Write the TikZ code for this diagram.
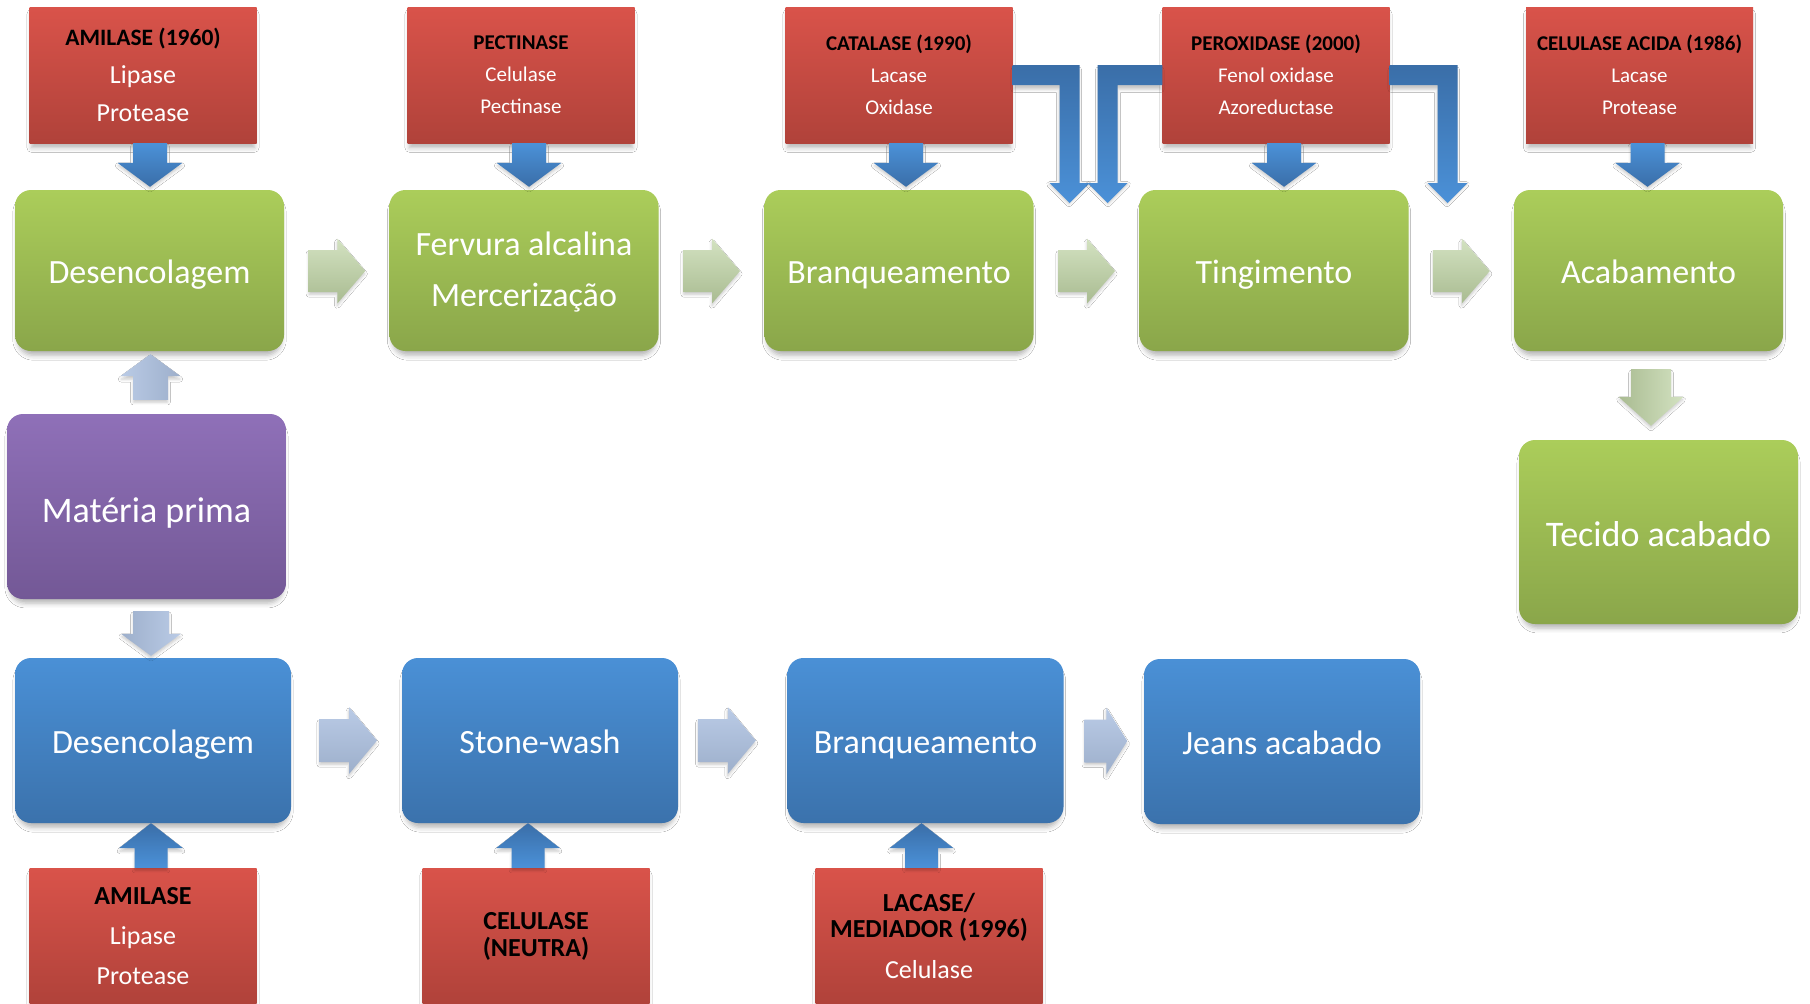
\documentclass[tikz,border=0pt]{standalone}
\usepackage{fontspec}
\setmainfont{Carlito}
\usetikzlibrary{calc,shadows.blur}

\definecolor{gtop}{HTML}{ABCD5A}
\definecolor{gbot}{HTML}{8AA64A}
\definecolor{btop}{HTML}{4A90D6}
\definecolor{bbot}{HTML}{3B72AC}
\definecolor{ptop}{HTML}{8F70B8}
\definecolor{pbot}{HTML}{735896}
\definecolor{rtop}{HTML}{D9534A}
\definecolor{rbot}{HTML}{B0423A}
\definecolor{alight}{HTML}{4B91D8}
\definecolor{adark}{HTML}{3A6EA8}
\definecolor{lbl}{HTML}{BACBE6}
\definecolor{lbd}{HTML}{9DAFCB}
\definecolor{lgl}{HTML}{D3E2C1}
\definecolor{lgd}{HTML}{A9BB91}

\tikzset{
  boxshadow/.style={blur shadow={shadow xshift=0pt,shadow yshift=-6pt,shadow blur radius=5pt,shadow scale=0.98,shadow opacity=30}},
  arrshadow/.style={blur shadow={shadow xshift=0pt,shadow yshift=-3pt,shadow blur radius=3pt,shadow scale=0.97,shadow opacity=22}},
  bx/.style={rounded corners=16pt, text=white, align=center, inner sep=0pt,
     font=\fontsize{34}{51}\selectfont, boxshadow},
  oneline/.style={text height=33pt, text depth=7pt},
  grn/.style={bx, top color=gtop, bottom color=gbot, minimum width=269pt, minimum height=161pt},
  blu/.style={bx, top color=btop, bottom color=bbot, minimum width=276pt, minimum height=165pt, oneline},
  pur/.style={bx, top color=ptop, bottom color=pbot},
  enz/.style={rectangle, top color=rtop, bottom color=rbot, text=white, align=center,
     inner sep=0pt, minimum width=227pt, minimum height=136pt, boxshadow,
     font=\fontsize{21}{32}\selectfont},
  bluearr/.style={top color=alight, bottom color=adark, arrshadow},
  bluearrup/.style={top color=adark, bottom color=alight, arrshadow},
  elbowarr/.style={top color=adark, bottom color=alight, arrshadow},
  lbright/.style={top color=lbl, bottom color=lbd, arrshadow},
  lbup/.style={left color=lbl, right color=lbd, arrshadow},
  lbdown/.style={left color=lbd, right color=lbl, arrshadow},
  lgright/.style={top color=lgl, bottom color=lgd, arrshadow},
  lgdown/.style={left color=lgd, right color=lgl, arrshadow},
}

% #1 style, #2 tail, #3 tip, #4 half shaft, #5 half head, #6 head length
\newcommand\arrDn[6]{\shade[#1] let \p1=#2, \p2=#3 in
  (\x2-#4,\y1) -- (\x2+#4,\y1) -- (\x2+#4,\y2+#6) -- (\x2+#5,\y2+#6) -- (\x2,\y2)
  -- (\x2-#5,\y2+#6) -- (\x2-#4,\y2+#6) -- cycle;}
\newcommand\arrUp[6]{\shade[#1] let \p1=#2, \p2=#3 in
  (\x2-#4,\y1) -- (\x2-#4,\y2-#6) -- (\x2-#5,\y2-#6) -- (\x2,\y2)
  -- (\x2+#5,\y2-#6) -- (\x2+#4,\y2-#6) -- (\x2+#4,\y1) -- cycle;}
\newcommand\arrRt[6]{\shade[#1] let \p1=#2, \p2=#3 in
  (\x1,\y2+#4) -- (\x2-#6,\y2+#4) -- (\x2-#6,\y2+#5) -- (\x2,\y2)
  -- (\x2-#6,\y2-#5) -- (\x2-#6,\y2-#4) -- (\x1,\y2-#4) -- cycle;}
% elbow: horizontal from #2 then down to tip #3
\newcommand\elbowRD[3]{\shade[#1] let \p1=#2, \p2=#3 in
  (\x1,\y1+10pt) -- (\x2+10pt,\y1+10pt) -- (\x2+10pt,\y2+20pt) -- (\x2+20pt,\y2+20pt)
  -- (\x2,\y2) -- (\x2-20pt,\y2+20pt) -- (\x2-10pt,\y2+20pt) -- (\x2-10pt,\y1-10pt)
  -- (\x1,\y1-10pt) -- cycle;}
\newcommand\elbowLD[3]{\shade[#1] let \p1=#2, \p2=#3 in
  (\x1,\y1+10pt) -- (\x2-10pt,\y1+10pt) -- (\x2-10pt,\y2+20pt) -- (\x2-20pt,\y2+20pt)
  -- (\x2,\y2) -- (\x2+20pt,\y2+20pt) -- (\x2+10pt,\y2+20pt) -- (\x2+10pt,\y1-10pt)
  -- (\x1,\y1-10pt) -- cycle;}

\begin{document}
\begin{tikzpicture}[x=1pt,y=-1pt]
\fill[white] (0,0) rectangle (1810,1004);
\useasboundingbox (0,0) rectangle (1810,1004);

% ---------- top enzyme boxes ----------
\node[enz, font=\fontsize{26}{38}\selectfont] (r1) at (143,75)
  {{\fontsize{23.5}{38}\selectfont\bfseries\color{black}AMILASE (1960)}\\Lipase\\Protease};
\node[enz] (r2) at (521,75) {{\bfseries\color{black}PECTINASE}\\Celulase\\Pectinase};
\node[enz] (r3) at (899,75) {{\bfseries\color{black}CATALASE (1990)}\\Lacase\\Oxidase};
\node[enz] (r4) at (1276,75) {{\bfseries\color{black}PEROXIDASE (2000)}\\Fenol oxidase\\Azoreductase};
\node[enz] (r5) at (1639.5,75) {{\bfseries\color{black}CELULASE ACIDA (1986)}\\Lacase\\Protease};

% ---------- green row ----------
\node[grn, oneline] (g1) at (149.5,270.5) {Desencolagem};
\node[grn] (g2) at (524,270.5) {\raisebox{-2.5pt}{\begin{tabular}{@{}c@{}}Fervura alcalina\\Mercerização\end{tabular}}};
\node[grn, oneline] (g3) at (899,270.5) {Branqueamento};
\node[grn, oneline] (g4) at (1274,270.5) {Tingimento};
\node[grn, oneline] (g5) at (1648.5,270.5) {Acabamento};
\node[grn, minimum width=279pt, minimum height=184pt, font=\fontsize{36}{44}\selectfont,
      text height=34pt, text depth=6pt] (g6) at (1658.5,532) {Tecido acabado};

% ---------- purple ----------
\node[pur, minimum width=279pt, minimum height=185pt, font=\fontsize{36}{44}\selectfont,
      text height=36pt, text depth=4pt] (pm) at (146.5,506.5) {Matéria prima};

% ---------- blue row ----------
\node[blu] (b1) at (153,740.5) {Desencolagem};
\node[blu] (b2) at (540,740.5) {Stone-wash};
\node[blu] (b3) at (925.5,740.5) {Branqueamento};
\node[blu] (b4) at (1282,741.5) {Jeans acabado};

% ---------- bottom enzyme boxes ----------
\node[enz, font=\fontsize{26}{40}\selectfont] (rb1) at (143,936)
  {{\bfseries\color{black}AMILASE}\\Lipase\\Protease};
\node[enz, font=\fontsize{26}{27}\selectfont\bfseries, text=black] (rb2) at (536,936)
  {CELULASE\\(NEUTRA)};
\node[enz, font=\fontsize{26}{26}\selectfont] (rb3) at (929,936)
  {{\bfseries\color{black}LACASE/}\\{\bfseries\color{black}MEDIADOR (1996)}\\[15pt]Celulase};

% ---------- enzyme arrows (top, down) ----------
\arrDn{bluearr}{(r1.south)}{($(g1.north)+(0.5,-3)$)}{17pt}{32.5pt}{24pt}
\arrDn{bluearr}{(r2.south)}{($(g2.north)+(5,-3)$)}{17pt}{32.5pt}{24pt}
\arrDn{bluearr}{(r3.south)}{($(g3.north)+(7,-3)$)}{17pt}{32.5pt}{24pt}
\arrDn{bluearr}{(r4.south)}{($(g4.north)+(10,-3)$)}{17pt}{32.5pt}{24pt}
\arrDn{bluearr}{(r5.south)}{($(g5.north)+(-1,-3)$)}{17pt}{32.5pt}{24pt}

% ---------- elbow arrows ----------
\coordinate (e1) at (1069.5,203);
\coordinate (e2) at (1107.5,203);
\coordinate (e3) at (1447.5,203);
\elbowRD{elbowarr}{(r3.east)}{(e1)}
\elbowLD{elbowarr}{(r4.west)}{(e2)}
\elbowRD{elbowarr}{(r4.east)}{(e3)}

% ---------- green right arrows ----------
\arrRt{lgright}{($(g1.east)!0.5!(g2.west)+(-28.5,0.5)$)}{($(g1.east)!0.5!(g2.west)+(28.5,0.5)$)}{21pt}{32.5pt}{28pt}
\arrRt{lgright}{($(g2.east)!0.5!(g3.west)+(-28.5,0.5)$)}{($(g2.east)!0.5!(g3.west)+(28.5,0.5)$)}{21pt}{32.5pt}{28pt}
\arrRt{lgright}{($(g3.east)!0.5!(g4.west)+(-28.5,0.5)$)}{($(g3.east)!0.5!(g4.west)+(28.5,0.5)$)}{21pt}{32.5pt}{28pt}
\arrRt{lgright}{($(g4.east)!0.5!(g5.west)+(-28.5,0.5)$)}{($(g4.east)!0.5!(g5.west)+(28.5,0.5)$)}{21pt}{32.5pt}{28pt}

% ---------- green down arrow ----------
\arrDn{lgdown}{($(g5.south)+(2.5,18)$)}{($(g6.north)+(-7.5,-14)$)}{20pt}{32.5pt}{29pt}

% ---------- purple arrows ----------
\arrUp{lbup}{($(pm.north)+(4,-14)$)}{($(g1.south)+(1,3)$)}{17.5pt}{30pt}{22pt}
\arrDn{lbdown}{($(pm.south)+(4.5,12)$)}{($(b1.north)+(-2,-2)$)}{18pt}{30pt}{22pt}

% ---------- blue row right arrows ----------
\arrRt{lbright}{($(b1.east)!0.5!(b2.west)+(-27.5,0)$)}{($(b1.east)!0.5!(b2.west)+(30.5,0)$)}{21.5pt}{33.5pt}{28pt}
\arrRt{lbright}{($(b2.east)!0.5!(b3.west)+(-35,0)$)}{($(b2.east)!0.5!(b3.west)+(23,0)$)}{21.5pt}{33.5pt}{28pt}
\arrRt{lbright}{($(b3.east)!0.5!(b4.west)+(-19.5,0)$)}{($(b3.east)!0.5!(b4.west)+(23.5,0)$)}{21.5pt}{33.5pt}{21pt}

% ---------- bottom enzyme arrows (up) ----------
\arrUp{bluearrup}{(rb1.north)}{($(b1.south)+(-2,0)$)}{16.5pt}{32pt}{25pt}
\arrUp{bluearrup}{(rb2.north)}{($(b2.south)+(-12,0)$)}{16.5pt}{32pt}{25pt}
\arrUp{bluearrup}{(rb3.north)}{($(b3.south)+(-4,0)$)}{16.5pt}{32pt}{25pt}
\end{tikzpicture}
\end{document}
